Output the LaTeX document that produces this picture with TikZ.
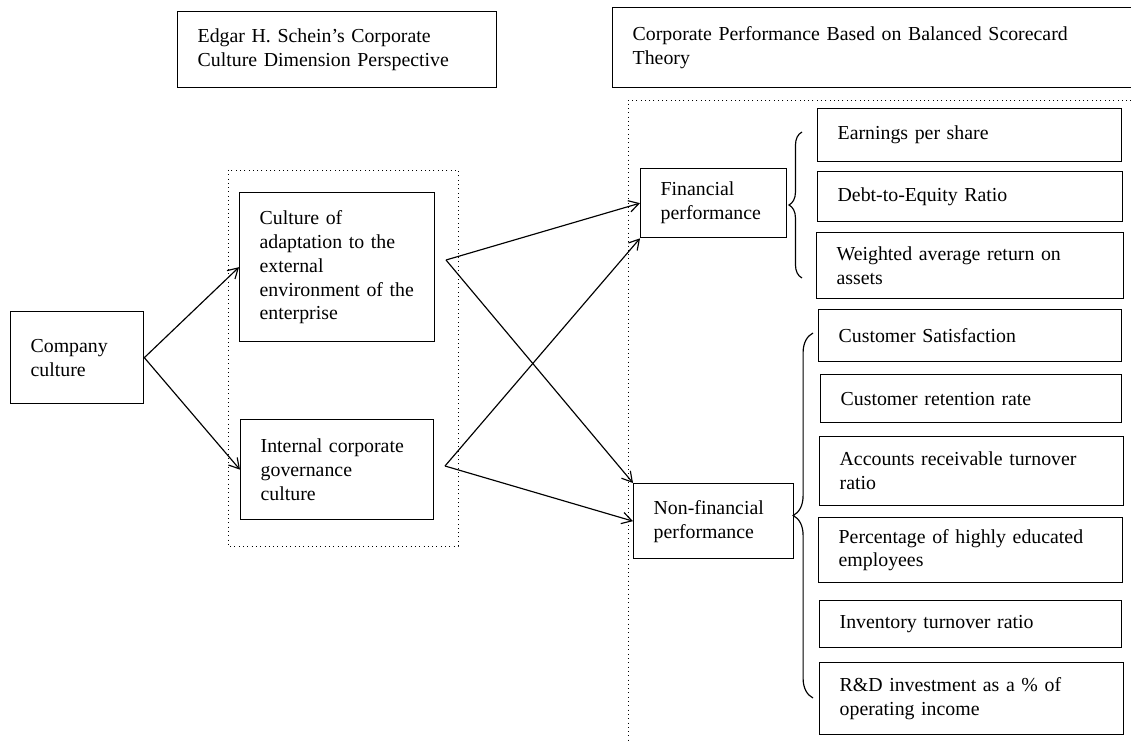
\documentclass[tikz,border=0pt]{standalone}
\usepackage{fontspec}
\setmainfont{Liberation Serif}
\usetikzlibrary{arrows.meta,decorations.pathreplacing}
\newlength\px
\setlength\px{0.605pt}

\begin{document}
\begin{tikzpicture}[
    x=0.605pt, y=-0.605pt,
    font=\fontsize{12pt}{14.5pt}\selectfont,
    box/.style = {draw, line width=0.8pt, anchor=north west, align=left,
                  inner xsep=20\px, inner ysep=1pt},
    link/.style = {line width=0.7pt, -{Straight Barb[length=6pt,width=7pt]}},
    group/.style = {dotted, line width=0.6pt},
    curly/.style = {decorate, line width=0.7pt, decoration={brace, amplitude=#1}}
     ]
  \useasboundingbox (0,0) rectangle (1131,743);
  % headings
  \node[box, text width=279\px, minimum height=76\px] (schein) at (177,11)
        {Edgar H. Schein's Corporate\\Culture Dimension Perspective};
  \node[box, text width=500\px, minimum height=80\px] (bsc) at (612,7)
        {Corporate Performance Based on Balanced Scorecard\\Theory};
  % culture side
  \draw[group] (228,170) rectangle (458,546);
  \node[box, text width=93\px, minimum height=92\px] (company) at (10,311)
        {Company\\culture};
  \node[box, text width=155\px, minimum height=149\px] (adapt) at (239,192)
        {Culture of\\adaptation to the\\external\\environment of the\\enterprise};
  \node[box, text width=153\px, minimum height=100\px] (internal) at (240,419)
        {Internal corporate\\governance\\culture};
  % performance side
  \draw[group] (1140,100) -- (628,100) -- (628,750);
  \node[box, text width=106\px, minimum height=69\px] (fin) at (640,168)
        {Financial\\performance};
  \node[box, text width=120\px, minimum height=75\px] (nonfin) at (633,483)
        {Non-financial\\performance};
  \node[box, text width=264\px, minimum height=53\px] (eps) at (817,108) {Earnings per share};
  \node[box, text width=265\px, minimum height=50\px] (der) at (817,171) {Debt-to-Equity Ratio};
  \node[box, text width=267\px, minimum height=66\px] (wroa) at (816,232)
        {Weighted average return on\\assets};
  \node[box, text width=263\px, minimum height=52\px] (csat) at (818,309) {Customer Satisfaction};
  \node[box, text width=261\px, minimum height=48\px] (cret) at (820,374) {Customer retention rate};
  \node[box, text width=264\px, minimum height=69\px] (art) at (819,436)
        {Accounts receivable turnover\\ratio};
  \node[box, text width=264\px, minimum height=65\px] (edu) at (818,517)
        {Percentage of highly educated\\employees};
  \node[box, text width=262\px, minimum height=47\px] (itr) at (819,600) {Inventory turnover ratio};
  \node[box, text width=264\px, minimum height=72\px] (rnd) at (819,662)
        {R\&D investment as a \% of\\operating income};
  % braces
  \draw[curly=7.9pt] (802,278) -- (802,132);
  \draw[curly=12pt] (813,698) -- (813,333);
  % arrows
  \coordinate (adapt-out) at (446,260);
  \coordinate (internal-out) at (445,466);
  \draw[link] (company.east) -- (adapt.west);
  \draw[link] (company.east) -- (internal.west);
  \draw[link] (adapt-out) -- (fin.west);
  \draw[link] (adapt-out) -- (nonfin.north west);
  \draw[link] (internal-out) -- (fin.south west);
  \draw[link] (internal-out) -- (nonfin.west);
\end{tikzpicture}
\end{document}
